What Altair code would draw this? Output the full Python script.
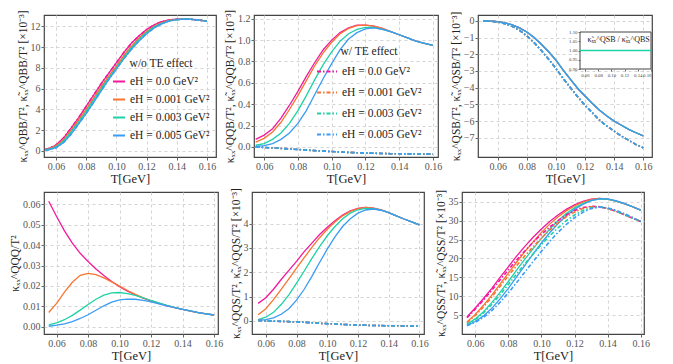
import altair as alt
import pandas as pd

# ---------------- data ----------------
LABELS = ["eH = 0.0 GeV²", "eH = 0.001 GeV²", "eH = 0.003 GeV²", "eH = 0.005 GeV²"]
COLORS = ["#f2189e", "#f87431", "#1fd2a6", "#3a9cf5"]

T_main = [0.055, 0.060, 0.065, 0.070, 0.075, 0.080, 0.085, 0.090, 0.095, 0.100, 0.105,
          0.110, 0.115, 0.120, 0.125, 0.130, 0.135, 0.140, 0.145, 0.150, 0.155, 0.160]
T_qbb = [0.053] + T_main
T_qsb = [0.050] + T_main

# panel 1: QBB  (x 1e-3)
qbb_0 = [0.15, 0.22, 0.55, 1.25, 2.2, 3.2, 4.3, 5.4, 6.5, 7.5, 8.5, 9.5, 10.4, 11.1, 11.7, 12.15, 12.45, 12.62, 12.7, 12.72, 12.68, 12.6, 12.5]
qbb_1 = [0.12, 0.18, 0.47, 1.1, 2.0, 3.0, 4.0, 5.1, 6.2, 7.2, 8.2, 9.2, 10.1, 10.9, 11.5, 12.0, 12.35, 12.58, 12.68, 12.72, 12.68, 12.6, 12.5]
qbb_3 = [0.09, 0.14, 0.38, 0.95, 1.8, 2.8, 3.8, 4.9, 6.0, 7.0, 8.0, 9.0, 9.95, 10.75, 11.4, 11.95, 12.3, 12.55, 12.66, 12.71, 12.68, 12.6, 12.5]
qbb_5 = [0.06, 0.1, 0.3, 0.8, 1.6, 2.6, 3.6, 4.7, 5.8, 6.9, 7.9, 8.9, 9.8, 10.6, 11.3, 11.85, 12.25, 12.52, 12.65, 12.7, 12.68, 12.6, 12.5]

# panel 2: QQB (x 1e-3)
qqb_0 = [0.07, 0.11, 0.17, 0.27, 0.39, 0.52, 0.66, 0.79, 0.91, 1.00, 1.07, 1.115, 1.14, 1.14, 1.13, 1.11, 1.08, 1.05, 1.02, 0.99, 0.97, 0.95]
qqb_1 = [0.045, 0.08, 0.14, 0.23, 0.35, 0.48, 0.62, 0.76, 0.88, 0.98, 1.06, 1.11, 1.135, 1.14, 1.13, 1.11, 1.08, 1.05, 1.02, 0.99, 0.97, 0.95]
qqb_3 = [0.015, 0.03, 0.07, 0.13, 0.22, 0.34, 0.48, 0.63, 0.77, 0.89, 0.99, 1.06, 1.10, 1.12, 1.12, 1.10, 1.08, 1.05, 1.02, 0.99, 0.97, 0.95]
qqb_5 = [0.005, 0.012, 0.03, 0.07, 0.13, 0.22, 0.34, 0.49, 0.64, 0.78, 0.91, 1.01, 1.07, 1.105, 1.115, 1.10, 1.08, 1.05, 1.02, 0.99, 0.97, 0.95]
qqb_te = [0.0, -0.005, -0.01, -0.015, -0.02, -0.025, -0.03, -0.035, -0.04, -0.044, -0.048, -0.052, -0.055, -0.058, -0.06, -0.062, -0.064, -0.065, -0.066, -0.067, -0.068, -0.069]

# panel 3: QSB (x 1e-3)
qsb = [0.0, -0.02, -0.05, -0.12, -0.24, -0.42, -0.67, -1.0, -1.4, -1.85, -2.35, -2.95, -3.5, -4.05, -4.5, -4.95, -5.35, -5.7, -6.0, -6.25, -6.5, -6.7, -6.88]
qsb_te = [0.0, -0.02, -0.07, -0.17, -0.33, -0.57, -0.9, -1.3, -1.78, -2.3, -2.85, -3.45, -4.0, -4.55, -5.05, -5.5, -5.95, -6.3, -6.6, -6.9, -7.15, -7.4, -7.6]
inset_T = [0.0526, 0.160]
inset_ratio = [1.0, 1.0]
inset_yticks = [0.90, 0.95, 1.00, 1.05, 1.10]

# panel 4: QQQ
qqq_0 = [0.0615, 0.054, 0.047, 0.041, 0.036, 0.032, 0.0283, 0.0251, 0.0222, 0.0196, 0.0175, 0.0157, 0.0141, 0.0127, 0.0115, 0.0104, 0.0094, 0.0085, 0.0077, 0.0070, 0.0064, 0.0058]
qqq_1 = [0.007, 0.0115, 0.017, 0.0218, 0.0252, 0.0262, 0.0256, 0.024, 0.022, 0.0199, 0.0178, 0.0159, 0.0142, 0.0127, 0.0115, 0.0104, 0.0094, 0.0085, 0.0077, 0.0070, 0.0064, 0.0058]
qqq_3 = [0.001, 0.002, 0.0035, 0.0056, 0.0082, 0.0109, 0.0135, 0.0155, 0.0166, 0.0168, 0.0163, 0.0154, 0.0142, 0.0129, 0.0117, 0.0105, 0.0095, 0.0086, 0.0078, 0.0070, 0.0064, 0.0058]
qqq_5 = [0.0003, 0.0008, 0.0015, 0.0026, 0.0041, 0.0059, 0.0081, 0.0103, 0.0121, 0.0132, 0.0136, 0.0135, 0.013, 0.0122, 0.0113, 0.0103, 0.0094, 0.0086, 0.0078, 0.0070, 0.0064, 0.0058]

# panel 5: QQS (x 1e-3)
qqs_0 = [0.72, 0.95, 1.3, 1.7, 2.08, 2.45, 2.85, 3.2, 3.55, 3.85, 4.12, 4.35, 4.52, 4.63, 4.67, 4.64, 4.56, 4.45, 4.32, 4.19, 4.07, 3.95]
qqs_1 = [0.25, 0.5, 0.87, 1.3, 1.73, 2.17, 2.6, 3.02, 3.42, 3.77, 4.07, 4.32, 4.5, 4.62, 4.67, 4.64, 4.56, 4.45, 4.32, 4.19, 4.07, 3.95]
qqs_3 = [0.05, 0.15, 0.35, 0.67, 1.07, 1.55, 2.05, 2.57, 3.05, 3.5, 3.88, 4.2, 4.43, 4.57, 4.63, 4.62, 4.55, 4.45, 4.32, 4.19, 4.07, 3.95]
qqs_5 = [0.02, 0.05, 0.12, 0.27, 0.5, 0.85, 1.3, 1.83, 2.4, 2.95, 3.45, 3.88, 4.2, 4.43, 4.56, 4.6, 4.55, 4.45, 4.32, 4.19, 4.07, 3.95]
qqs_te = [0.02, 0.0, -0.01, -0.02, -0.03, -0.045, -0.06, -0.08, -0.1, -0.115, -0.13, -0.145, -0.16, -0.17, -0.18, -0.19, -0.195, -0.2, -0.2, -0.205, -0.21, -0.21]

# panel 6: QSS (x 1e-3)
qss_0 = [4.5, 6.9, 9.4, 12.1, 15.0, 17.8, 20.6, 23.2, 25.6, 27.8, 29.8, 31.5, 33.0, 34.2, 35.1, 35.7, 35.9, 35.7, 35.2, 34.5, 33.7, 32.8]
qss_1 = [3.2, 5.2, 7.6, 10.3, 13.2, 16.1, 19.0, 21.8, 24.4, 26.9, 29.1, 31.0, 32.6, 33.9, 34.9, 35.6, 35.9, 35.7, 35.2, 34.5, 33.7, 32.8]
qss_3 = [2.6, 4.0, 5.9, 8.3, 11.0, 13.9, 16.9, 19.8, 22.6, 25.3, 27.8, 30.0, 31.9, 33.4, 34.5, 35.3, 35.8, 35.7, 35.2, 34.5, 33.7, 32.8]
qss_5 = [2.3, 3.3, 4.8, 6.8, 9.3, 12.1, 15.1, 18.2, 21.2, 24.1, 26.8, 29.2, 31.3, 33.0, 34.3, 35.3, 35.8, 35.8, 35.3, 34.6, 33.7, 32.8]
qss_te_0 = [4.3, 6.6, 9.0, 11.6, 14.3, 17.0, 19.6, 22.0, 24.3, 26.4, 28.3, 30.0, 31.5, 32.7, 33.5, 33.8, 33.7, 33.2, 32.5, 31.6, 30.7, 29.8]
qss_te_1 = [3.0, 4.9, 7.2, 9.8, 12.6, 15.4, 18.1, 20.7, 23.1, 25.4, 27.5, 29.4, 31.0, 32.3, 33.2, 33.7, 33.7, 33.2, 32.5, 31.6, 30.7, 29.8]
qss_te_3 = [2.5, 3.8, 5.6, 7.8, 10.4, 13.1, 15.9, 18.6, 21.2, 23.7, 26.0, 28.1, 30.0, 31.5, 32.7, 33.4, 33.7, 33.3, 32.6, 31.7, 30.7, 29.8]
qss_te_5 = [2.2, 3.1, 4.4, 6.2, 8.4, 10.9, 13.6, 16.4, 19.2, 21.9, 24.5, 26.9, 29.0, 30.8, 32.2, 33.2, 33.6, 33.4, 32.8, 31.9, 30.9, 29.8]

X_TICKS = [0.06, 0.08, 0.10, 0.12, 0.14, 0.16]

# ---------------- layout ----------------
H = 142
W = [172, 184, 174, 174, 172, 182]
DASHDOT = [4, 2, 1.5, 2]
FONT = "Liberation Serif"


def long_df(T, series):
    rows = []
    for lab, vals in zip(LABELS, series):
        for t, v in zip(T, vals):
            rows.append({"T": t, "v": v, "s": lab})
    return pd.DataFrame(rows)


def color_enc(legend=None):
    return alt.Color("s:N", scale=alt.Scale(domain=LABELS, range=COLORS), legend=legend)


def xenc(dom):
    return alt.X("T:Q", scale=alt.Scale(domain=dom, nice=False, zero=False),
                 axis=alt.Axis(values=X_TICKS, format=".2f", title="T[GeV]"))


def yenc(dom, ticks, fmt, title):
    return alt.Y("v:Q", scale=alt.Scale(domain=dom, nice=False, zero=False),
                 axis=alt.Axis(values=ticks, format=fmt, title=title))


def panel(w, xdom, ydom, yticks, yfmt, ytitle, solid_df, dash_df=None, legend=None):
    layers = [alt.Chart(solid_df).mark_line(strokeWidth=1.3, clip=True).encode(
        x=xenc(xdom), y=yenc(ydom, yticks, yfmt, ytitle),
        color=color_enc(legend), detail="s:N")]
    if dash_df is not None:
        layers.append(alt.Chart(dash_df).mark_line(strokeWidth=1.6, strokeDash=DASHDOT, clip=True).encode(
            x=xenc(xdom), y=yenc(ydom, yticks, yfmt, ytitle),
            color=color_enc(None), detail="s:N"))
    return alt.layer(*layers).properties(width=w, height=H)


leg1 = alt.Legend(orient="none", legendX=68, legendY=43, title="w/o TE effect",
                  symbolType="stroke", symbolSize=144, symbolStrokeWidth=2,
                  rowPadding=5, titleAnchor="middle", titlePadding=5)
leg2 = alt.Legend(orient="none", legendX=62, legendY=31, title="w/ TE effect",
                  symbolType="stroke", symbolSize=400, symbolStrokeWidth=2,
                  symbolDash=DASHDOT, rowPadding=4, titleAnchor="middle", titlePadding=3)

p1 = panel(W[0], [0.052, 0.166], [-0.6, 13.1], [0, 2, 4, 6, 8, 10, 12], "d",
           "κₓₓ^QBB/T², κ̃ₓₓ^QBB/T² [×10⁻³]",
           long_df(T_qbb, [qbb_0, qbb_1, qbb_3, qbb_5]),
           long_df(T_qbb, [qbb_0, qbb_1, qbb_3, qbb_5]), legend=leg1)

p2 = panel(W[1], [0.054, 0.163], [-0.095, 1.235], [0.0, 0.2, 0.4, 0.6, 0.8, 1.0, 1.2], ".1f",
           "κₓₓ^QQB/T², κ̃ₓₓ^QQB/T² [×10⁻³]",
           long_df(T_main, [qqb_0, qqb_1, qqb_3, qqb_5]),
           long_df(T_main, [qqb_te] * 4), legend=leg2)

# panel 3 with inset
p3_main = panel(W[2], [0.0465, 0.166], [-8.15, 0.35], [0, -1, -2, -3, -4, -5, -6, -7], "d",
                "κₓₓ^QSB/T², κ̃ₓₓ^QSB/T² [×10⁻³]",
                long_df(T_qsb, [qsb] * 4), long_df(T_qsb, [qsb_te] * 4))

ix0, ix1 = 102, W[2] - 1
iy0, iy1 = int(0.385 * H), 17
inset_xs = alt.Scale(domain=[inset_T[0], inset_T[-1]], range=[ix0, ix1], nice=False, zero=False)
inset_ys = alt.Scale(domain=[inset_yticks[0], inset_yticks[-1]], range=[iy0, iy1], nice=False, zero=False)
inset_xaxis = alt.Axis(orient="bottom", offset=-(H - iy0), values=X_TICKS, format=".2f", title=None,
                       grid=False, labelFontSize=4.8, tickSize=2, labelPadding=1, domain=False,
                       zindex=1, labelOverlap=False, labelColor="#444")
inset_yaxis = alt.Axis(orient="left", offset=-ix0, values=inset_yticks, format=".2f", title=None,
                       grid=False, labelFontSize=4.8, tickSize=2, labelPadding=1, domain=False,
                       zindex=1, labelOverlap=False, labelColor="#444")

frame_df = pd.DataFrame({"x0": [inset_T[0]], "x1": [inset_T[-1]],
                         "y0": [inset_yticks[0]], "y1": [inset_yticks[-1]]})
inset_rect = alt.Chart(frame_df).mark_rect(fill="white", stroke="#444", strokeWidth=1).encode(
    x=alt.X("x0:Q", scale=inset_xs, axis=inset_xaxis), x2="x1:Q",
    y=alt.Y("y0:Q", scale=inset_ys, axis=inset_yaxis), y2="y1:Q")
inset_line = alt.Chart(pd.DataFrame({"x0": inset_T, "y0": inset_ratio})).mark_line(
    color=COLORS[2], strokeWidth=1.3).encode(
    x=alt.X("x0:Q", scale=inset_xs, axis=inset_xaxis),
    y=alt.Y("y0:Q", scale=inset_ys, axis=inset_yaxis))
inset_text = alt.Chart(pd.DataFrame({"x0": [0.111], "y0": [1.058], "t": ["κ̃ₓₓ^QSB / κ̃ₓₓ^QBS"]})).mark_text(
    font=FONT, fontSize=8, color="#222").encode(
    x=alt.X("x0:Q", scale=inset_xs, axis=inset_xaxis),
    y=alt.Y("y0:Q", scale=inset_ys, axis=inset_yaxis), text="t:N")
inset = alt.layer(inset_rect, inset_line, inset_text)
p3 = alt.layer(p3_main, inset).resolve_scale(x="independent", y="independent").properties(width=W[2], height=H)

p4 = panel(W[3], [0.052, 0.1625], [-0.0035, 0.066], [0.0, 0.01, 0.02, 0.03, 0.04, 0.05, 0.06], ".2f",
           "κₓₓ^QQQ/T²", long_df(T_main, [qqq_0, qqq_1, qqq_3, qqq_5]))

p5 = panel(W[4], [0.051, 0.163], [-0.54, 5.3], [0, 1, 2, 3, 4], "d",
           "κₓₓ^QQS/T², κ̃ₓₓ^QQS/T² [×10⁻³]",
           long_df(T_main, [qqs_0, qqs_1, qqs_3, qqs_5]), long_df(T_main, [qqs_te] * 4))

p6 = panel(W[5], [0.052, 0.162], [0.0, 37.6], [5, 10, 15, 20, 25, 30, 35], "d",
           "κₓₓ^QSS/T², κ̃ₓₓ^QSS/T² [×10⁻³]",
           long_df(T_main, [qss_0, qss_1, qss_3, qss_5]),
           long_df(T_main, [qss_te_0, qss_te_1, qss_te_3, qss_te_5]))

row1 = alt.hconcat(p1, p2, p3, spacing=6).resolve_scale(color="independent")
row2 = alt.hconcat(p4, p5, p6, spacing=5).resolve_scale(color="independent")

chart = alt.vconcat(row1, row2, spacing=1).resolve_scale(color="independent").properties(
    padding={"left": 0, "top": 0, "right": 0, "bottom": 0}
).configure_view(stroke="#444", strokeWidth=1.2).configure_axis(
    labelFont=FONT, labelFontSize=10, labelColor="#555", titleFont=FONT, titleFontSize=11.5,
    titleFontWeight="normal", titleColor="#222", gridColor="#d4d4d4", gridDash=[3, 3],
    domain=False, tickColor="#666", tickSize=3, labelPadding=1, titlePadding=2
).configure_axisX(titleFontSize=12.5, titlePadding=1).configure_legend(
    labelFont=FONT, labelFontSize=11.5, labelColor="#222", titleFont=FONT, titleFontSize=11.5,
    titleFontWeight="normal", titleColor="#222"
)

chart.save("out.html", embed_options={"renderer": "svg", "actions": False})
